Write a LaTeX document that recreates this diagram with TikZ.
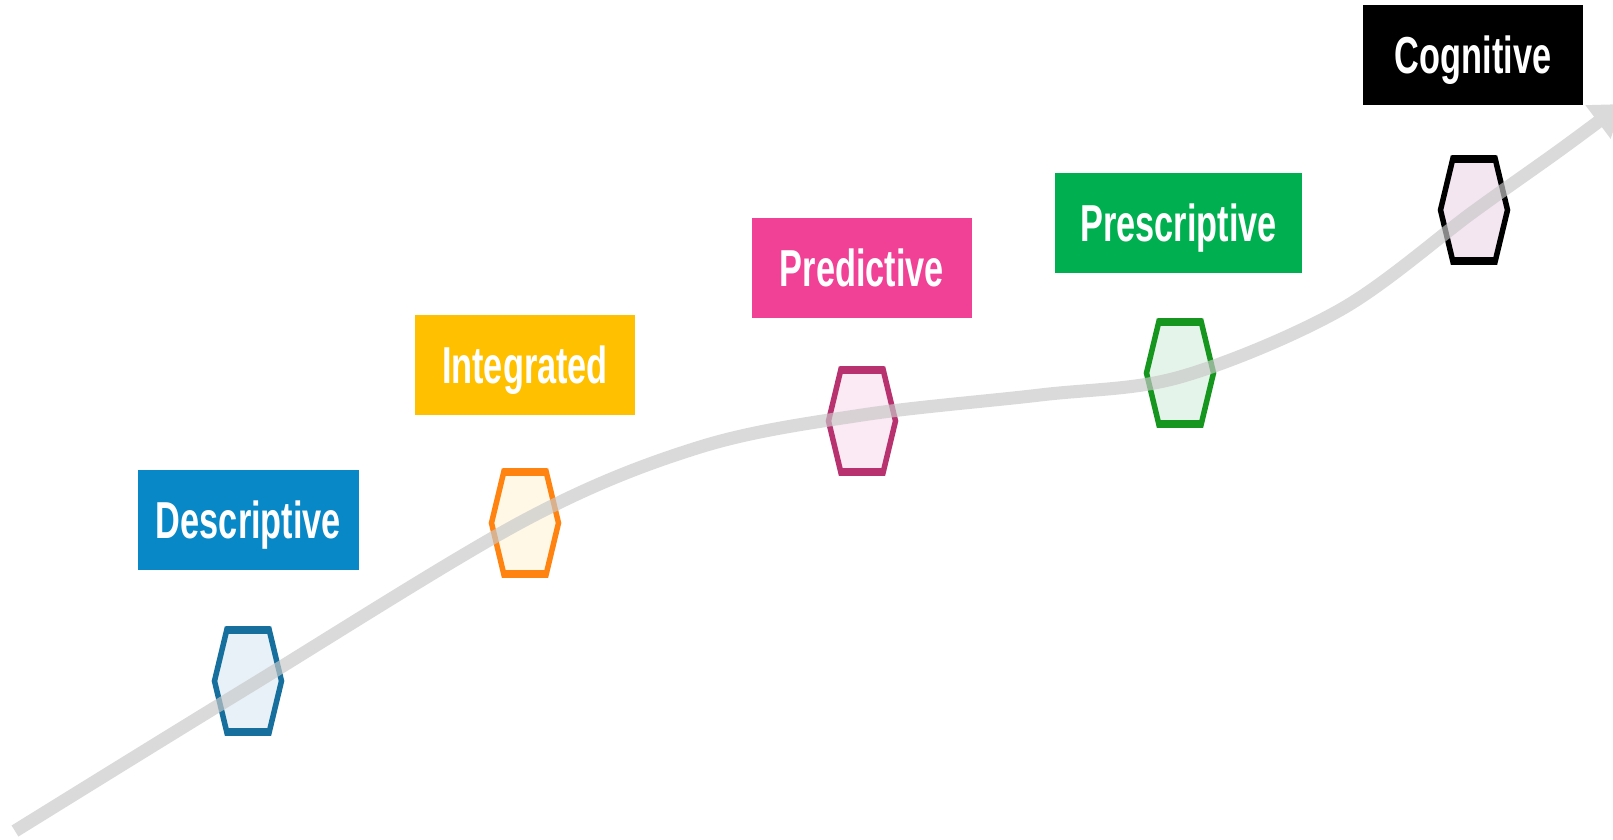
\documentclass[tikz,border=0pt]{standalone}
\usepackage{fontspec}
\usetikzlibrary{arrows.meta}
\newfontfamily\labfont[FakeStretch=0.66,BoldFeatures={FakeStretch=0.66}]{Liberation Sans}
\definecolor{cDesc}{HTML}{0888C6}
\definecolor{cInt}{HTML}{FFC000}
\definecolor{cPred}{HTML}{F04197}
\definecolor{cPres}{HTML}{00B050}
\definecolor{cCog}{HTML}{000000}
\definecolor{hDescB}{HTML}{166F9C}
\definecolor{hDescF}{HTML}{E7F1F7}
\definecolor{hIntB}{HTML}{FF8311}
\definecolor{hIntF}{HTML}{FFF8E7}
\definecolor{hPredB}{HTML}{B8326F}
\definecolor{hPredF}{HTML}{FBE9F3}
\definecolor{hPresB}{HTML}{16961E}
\definecolor{hPresF}{HTML}{E5F4EA}
\definecolor{hCogB}{HTML}{000000}
\definecolor{hCogF}{HTML}{F3E6F1}
\definecolor{trackgray}{HTML}{C8C8C8}
\tikzset{
  labelbox/.style={rectangle, inner sep=0pt, minimum height=100pt, text=white,
    font=\labfont\bfseries\fontsize{52}{60}\selectfont, text height=37pt, text depth=0pt},
  hexa/.pic={
    \path[pic actions] (-33.5,0) -- (-21,-52) -- (21,-52) -- (33.5,0) -- (21,52) -- (-21,52) -- cycle;
    \path[pic actions, fill=none, line width=8pt, line cap=butt] (-22,-51) -- (22,-51) (-22,51) -- (22,51);
  },
  hexstyle/.style={line width=5.5pt, line join=miter},
  track/.style={line width=13pt, draw=trackgray, -{Triangle[width=40pt,length=30pt]}}
}
\begin{document}
\begin{tikzpicture}[x=1pt,y=-1pt]
\useasboundingbox (0,0) rectangle (1613,839);
\clip (0,0) rectangle (1613,839);
% label boxes
\node[labelbox, fill=cDesc, minimum width=221pt] (dbox) at (248.5,520) {Descriptive};
\node[labelbox, fill=cInt, minimum width=220pt] (ibox) at (525,365) {Integrated};
\node[labelbox, fill=cPred, minimum width=220pt] (pbox) at (862,267.5) {Predictive};
\node[labelbox, fill=cPres, minimum width=247pt] (prbox) at (1178.5,223) {Prescriptive};
\node[labelbox, fill=cCog, minimum width=220pt] (cbox) at (1473,55) {Cognitive};
% hexagons
\coordinate (dhex) at (248,681);
\coordinate (ihex) at (525,523);
\coordinate (phex) at (862,421);
\coordinate (prhex) at (1180,373);
\coordinate (chex) at (1474,210);
\pic[hexstyle, draw=hDescB, fill=hDescF] at (dhex) {hexa};
\pic[hexstyle, draw=hIntB, fill=hIntF] at (ihex) {hexa};
\pic[hexstyle, draw=hPredB, fill=hPredF] at (phex) {hexa};
\pic[hexstyle, draw=hPresB, fill=hPresF] at (prhex) {hexa};
\pic[hexstyle, draw=hCogB, fill=hCogF] at (chex) {hexa};
% growth track
\coordinate (start) at (15,831);
\coordinate (tip) at (1622,104);
\begin{scope}[transparency group, opacity=0.68]
\draw[track] plot[smooth, tension=0.55] coordinates {(start) (247,688) (525,520) (700,447) (862,415) (1040,395) (1180,377) (1340,310) (1473,212) (1560,150) (tip)};
\end{scope}
\end{tikzpicture}
\end{document}
